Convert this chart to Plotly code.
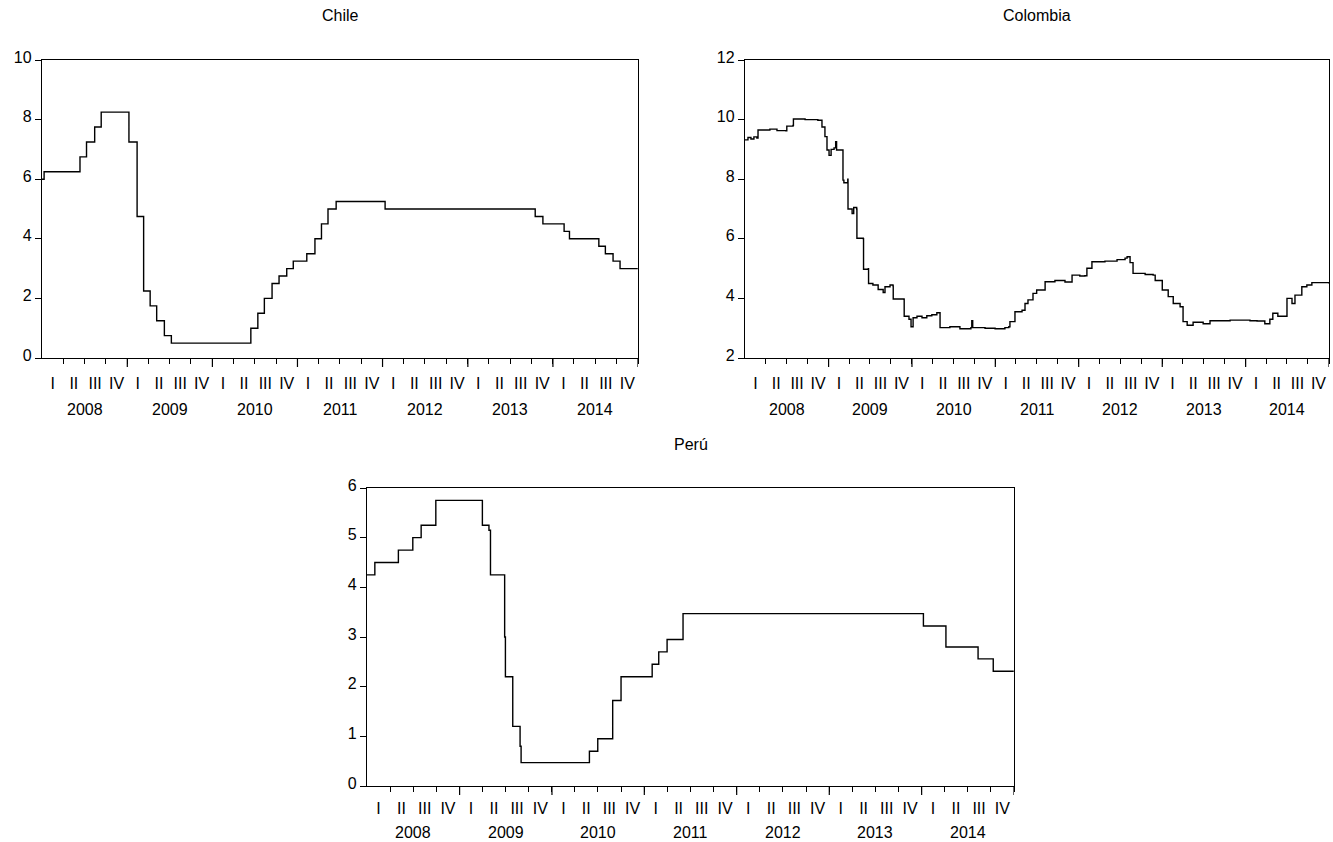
import pandas as pd
import plotly.graph_objects as go

# ---- Chile: monetary policy rate (step changes) ----
chile_dates = ["2008-01-01", "2008-01-10", "2008-06-12", "2008-07-10", "2008-08-14", "2008-09-11",
               "2009-01-08", "2009-02-12", "2009-03-12", "2009-04-09", "2009-05-07", "2009-06-09",
               "2009-07-09", "2010-06-15", "2010-07-15", "2010-08-12", "2010-09-14", "2010-10-14",
               "2010-11-16", "2010-12-14", "2011-02-10", "2011-03-17", "2011-04-14", "2011-05-12",
               "2011-06-16", "2012-01-12", "2013-10-17", "2013-11-19", "2014-02-18", "2014-03-13",
               "2014-07-17", "2014-08-14", "2014-09-16", "2014-10-16", "2014-12-31"]
chile_rate = [6.0, 6.25, 6.75, 7.25, 7.75, 8.25,
              7.25, 4.75, 2.25, 1.75, 1.25, 0.75,
              0.5, 1.0, 1.5, 2.0, 2.5, 2.75,
              3.0, 3.25, 3.5, 4.0, 4.5, 5.0,
              5.25, 5.0, 4.75, 4.5, 4.25, 4.0,
              3.75, 3.5, 3.25, 3.0, 3.0]

# ---- Colombia: interbank rate ----
colombia_dates = ["2008-01-01", "2008-01-14", "2008-01-27", "2008-02-09", "2008-02-22", "2008-02-27",
                  "2008-04-19", "2008-05-20", "2008-06-28", "2008-07-02", "2008-07-29", "2008-07-31",
                  "2008-09-20", "2008-11-02", "2008-11-15", "2008-12-03", "2008-12-16", "2008-12-25",
                  "2009-01-03", "2009-01-12", "2009-01-25", "2009-02-01", "2009-02-05", "2009-03-04",
                  "2009-03-05", "2009-03-09", "2009-03-26", "2009-03-27", "2009-04-14", "2009-04-21",
                  "2009-05-04", "2009-05-05", "2009-06-02", "2009-06-03", "2009-06-24", "2009-06-25",
                  "2009-07-14", "2009-08-06", "2009-08-28", "2009-09-05", "2009-09-27", "2009-10-10",
                  "2009-10-11", "2009-11-27", "2009-11-28", "2009-12-19", "2009-12-28", "2010-01-06",
                  "2010-01-23", "2010-02-14", "2010-03-07", "2010-03-29", "2010-04-20", "2010-05-03",
                  "2010-05-04", "2010-06-16", "2010-07-30", "2010-09-16", "2010-09-20", "2010-09-24",
                  "2010-11-17", "2010-12-31", "2011-02-12", "2011-03-01", "2011-03-06", "2011-03-28",
                  "2011-04-28", "2011-05-11", "2011-05-24", "2011-06-15", "2011-07-01", "2011-08-07",
                  "2011-09-19", "2011-11-02", "2011-12-03", "2012-01-06", "2012-01-28", "2012-02-06",
                  "2012-02-28", "2012-04-25", "2012-06-17", "2012-07-22", "2012-07-31", "2012-08-13",
                  "2012-08-26", "2012-10-18", "2012-11-22", "2012-12-01", "2013-01-01", "2013-01-27",
                  "2013-02-18", "2013-03-20", "2013-04-02", "2013-04-20", "2013-05-16", "2013-06-29",
                  "2013-07-29", "2013-10-25", "2014-01-20", "2014-02-20", "2014-03-26", "2014-04-17",
                  "2014-04-30", "2014-05-22", "2014-07-01", "2014-07-23", "2014-08-05", "2014-09-04",
                  "2014-09-26", "2014-10-18", "2014-12-31"]
colombia_rate = [9.32, 9.40, 9.35, 9.42, 9.38, 9.65,
                 9.68, 9.63, 9.62, 9.78, 9.80, 10.02,
                 10.00, 10.00, 9.98, 9.75, 9.43, 8.98,
                 8.80, 9.00, 9.05, 9.26, 8.98, 8.98,
                 7.97, 7.88, 8.00, 7.00, 6.85, 7.05,
                 7.00, 6.02, 6.00, 4.98, 5.00, 4.50,
                 4.45, 4.30, 4.20, 4.39, 4.45, 4.42,
                 3.98, 3.97, 3.40, 3.30, 3.05, 3.35,
                 3.40, 3.35, 3.42, 3.45, 3.52, 3.52,
                 3.02, 3.05, 2.98, 3.02, 3.25, 3.02,
                 3.00, 2.98, 3.02, 3.05, 3.22, 3.55,
                 3.60, 3.83, 3.95, 4.17, 4.28, 4.56,
                 4.60, 4.55, 4.78, 4.75, 4.76, 5.01,
                 5.23, 5.25, 5.30, 5.35, 5.40, 5.20,
                 4.84, 4.80, 4.78, 4.60, 4.28, 4.06,
                 3.83, 3.72, 3.22, 3.10, 3.20, 3.15,
                 3.25, 3.27, 3.25, 3.24, 3.15, 3.30,
                 3.50, 3.40, 4.00, 3.83, 4.11, 4.39,
                 4.45, 4.53, 4.50]

# ---- Perú: reference rate ----
peru_dates = ["2008-01-01", "2008-02-01", "2008-05-04", "2008-06-30", "2008-08-02", "2008-09-29",
              "2009-04-01", "2009-04-27", "2009-05-03", "2009-06-28", "2009-07-01", "2009-07-30",
              "2009-08-28", "2009-09-01", "2010-05-29", "2010-07-01", "2010-08-29", "2010-10-01",
              "2011-02-01", "2011-02-27", "2011-04-01", "2011-06-03", "2014-01-08", "2014-04-07",
              "2014-08-12", "2014-10-11", "2014-12-31"]
peru_rate = [4.25, 4.5, 4.75, 5.0, 5.25, 5.75,
             5.25, 5.15, 4.25, 3.0, 2.2, 1.2,
             0.8, 0.47, 0.7, 0.95, 1.72, 2.2,
             2.45, 2.7, 2.95, 3.47, 3.22, 2.8,
             2.56, 2.31, 2.31]

years = list(range(2008, 2015))
quarter_names = ["I", "II", "III", "IV"]

FONT = "Liberation Sans, Arial, sans-serif"
FS = 16
W, H = 1333, 842

# quarter boundaries, quarter midpoints and year boundaries for the time axes
q_starts = pd.date_range(f"{years[0]}-01-01", f"{years[-1] + 1}-01-01", freq="QS")
q_mids = [a + (b - a) / 2 for a, b in zip(q_starts[:-1], q_starts[1:])]
q_text = [quarter_names[i % 4] for i in range(len(q_mids))]
y_starts = pd.date_range(f"{years[0]}-01-01", f"{years[-1] + 1}-01-01", freq="YS")
y_mids = [a + (b - a) / 2 for a, b in zip(y_starts[:-1], y_starts[1:])]
x_range = [y_starts[0], y_starts[-1]]

# panel boxes in pixels (left, right, top, bottom) and label offsets below the axis
panels = [
    dict(name="Chile", dates=chile_dates, vals=chile_rate, box=(42, 638, 60, 358),
         yr=(0, 10), ytv=[0, 2, 4, 6, 8, 10], qpad=11, ypad=52),
    dict(name="Colombia", dates=colombia_dates, vals=colombia_rate, box=(745, 1329, 60, 358),
         yr=(2, 12), ytv=[2, 4, 6, 8, 10, 12], qpad=11, ypad=52),
    dict(name="Perú", dates=peru_dates, vals=peru_rate, box=(367, 1014, 488, 786),
         yr=(0, 6), ytv=[0, 1, 2, 3, 4, 5, 6], qpad=8, ypad=46),
]

fig = go.Figure()
shapes, annotations = [], []
layout = {}

for i, p in enumerate(panels, start=1):
    sfx = "" if i == 1 else str(i)
    xa, ya = f"x{sfx}", f"y{sfx}"
    l, r, t, b = p["box"]
    plot_h = b - t

    fig.add_trace(go.Scatter(
        x=pd.to_datetime(p["dates"]), y=p["vals"], mode="lines",
        line=dict(color="black", width=1.4, shape="hv"),
        xaxis=xa, yaxis=ya, showlegend=False, hoverinfo="skip"))

    layout[f"xaxis{sfx}"] = dict(
        domain=[l / W, r / W], anchor=ya, type="date", range=x_range, automargin=False,
        tickmode="array", tickvals=q_mids, ticktext=q_text,
        ticks="outside", ticklen=p["qpad"], tickcolor="rgba(0,0,0,0)",
        minor=dict(tickmode="array", tickvals=list(q_starts[1:]), ticks="outside",
                   ticklen=5, tickwidth=1.2, tickcolor="black", showgrid=False),
        showline=True, linecolor="black", linewidth=1.4, mirror=True,
        showgrid=False, zeroline=False,
        tickfont=dict(family=FONT, size=FS, color="black"),
        fixedrange=True)
    layout[f"yaxis{sfx}"] = dict(
        domain=[1 - b / H, 1 - t / H], anchor=xa, range=list(p["yr"]), automargin=False,
        tickmode="array", tickvals=p["ytv"], ticks="outside", ticklen=6,
        tickwidth=1.2, tickcolor="black", ticklabelshift=-3,
        showline=True, linecolor="black", linewidth=1.4, mirror=True,
        showgrid=False, zeroline=False,
        tickfont=dict(family=FONT, size=FS, color="black"),
        fixedrange=True)

    # longer ticks at the year boundaries
    for ys in y_starts[1:]:
        shapes.append(dict(type="line", xref=xa, yref=f"{ya} domain",
                           x0=ys, x1=ys, y0=0, y1=-9 / plot_h,
                           line=dict(color="black", width=1.2)))
    # year labels under the quarter labels
    for yr, ym in zip(years, y_mids):
        annotations.append(dict(x=ym, y=0, xref=xa, yref=f"{ya} domain",
                                text=str(yr), showarrow=False, xanchor="center",
                                yanchor="middle", yshift=-p["ypad"],
                                font=dict(family=FONT, size=FS, color="black")))
    # panel title
    annotations.append(dict(x=(l + r) / 2 / W, y=1 - (t - 44) / H, xref="paper", yref="paper",
                            text=p["name"], showarrow=False, xanchor="center", yanchor="middle",
                            font=dict(family=FONT, size=FS, color="black")))

fig.update_layout(
    width=W, height=H, margin=dict(l=0, r=0, t=0, b=0, autoexpand=False),
    paper_bgcolor="white", plot_bgcolor="white",
    shapes=shapes, annotations=annotations, **layout)

fig.write_html("out.html", include_plotlyjs=True, config={"displayModeBar": False})
